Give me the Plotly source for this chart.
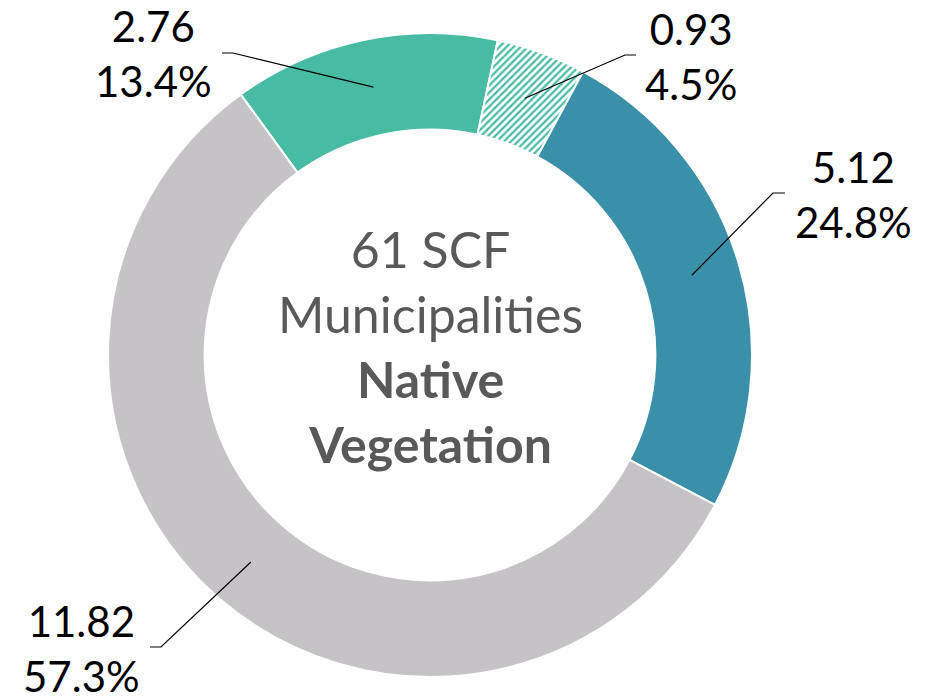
import numpy as np
import plotly.graph_objects as go

# slice data (clockwise, starting with the green slice)
categories = ['Category A', 'Category B', 'Category C', 'Category D']
values = [2.76, 0.93, 5.12, 11.82]
colors = ['#48BBA3', '#48BBA3', '#3A90A8', '#C5C3C6']
patterns = ['', '/', '', '']
center_lines = ['61 SCF', 'Municipalities', '<b>Native</b>', '<b>Vegetation</b>']

PAGE_W, PAGE_H = 927, 698
BODY_MARGIN = 8            # default html body margin around the plot div
W, H = PAGE_W - BODY_MARGIN, PAGE_H - BODY_MARGIN
CX, CY = 430, 355          # donut centre in screen px
R_OUT = 322
HOLE = 0.70
ROTATION = -36

total = sum(values)
pcts = [v / total * 100 for v in values]


def px(x, y):
    """screen pixel -> paper coords"""
    return (x - BODY_MARGIN) / W, 1 - (y - BODY_MARGIN) / H


fig = go.Figure()
d0 = px(CX - R_OUT, CY + R_OUT)
d1 = px(CX + R_OUT, CY - R_OUT)
fig.add_trace(go.Pie(
    labels=categories,
    values=values,
    hole=HOLE,
    sort=False,
    direction='clockwise',
    rotation=ROTATION,
    textinfo='none',
    hoverinfo='label+value+percent',
    marker=dict(
        colors=colors,
        line=dict(color='white', width=2),
        pattern=dict(shape=patterns, fgcolor='#48BBA3', bgcolor='white',
                     size=5, solidity=0.45),
    ),
    domain=dict(x=[d0[0], d1[0]], y=[d0[1], d1[1]]),
))

# label placement (text centre) and short horizontal tail of each leader line
label_xy = [(153, 54), (691, 56), (853, 194), (81, 648)]
tail_x = [(222, 233), (636, 625), (785, 773), (150, 161)]

r_mid = R_OUT * (1 + HOLE) / 2
cum = 0
shapes = []
annotations = []
for i, v in enumerate(values):
    theta = np.deg2rad(ROTATION + (cum + v / 2) / total * 360)
    cum += v
    tip = (CX + r_mid * np.sin(theta), CY - r_mid * np.cos(theta))
    lx, ly = label_xy[i]
    t0, t1 = tail_x[i]
    p0, p1, p2 = px(t0, ly - 1), px(t1, ly - 1), px(*tip)
    shapes.append(dict(
        type='path', xref='paper', yref='paper',
        path=f'M {p0[0]} {p0[1]} L {p1[0]} {p1[1]} L {p2[0]} {p2[1]}',
        line=dict(color='black', width=1.2),
    ))
    ax, ay = px(lx, ly)
    annotations.append(dict(
        x=ax, y=ay, xref='paper', yref='paper', showarrow=False,
        text=f'{v:.2f}<br>{pcts[i]:.1f}%',
        font=dict(family='Lato', size=42, color='black'),
        xanchor='center', yanchor='middle', align='center',
    ))

cx, cy = px(CX, 346)
annotations.append(dict(
    x=cx, y=cy, xref='paper', yref='paper', showarrow=False,
    text='<br>'.join(center_lines),
    font=dict(family='Lato', size=50, color='#595959'),
    xanchor='center', yanchor='middle', align='center',
))

fig.update_layout(
    width=W, height=H,
    margin=dict(l=0, r=0, t=0, b=0),
    paper_bgcolor='white',
    plot_bgcolor='white',
    showlegend=False,
    shapes=shapes,
    annotations=annotations,
)

fig.write_html("out.html")
